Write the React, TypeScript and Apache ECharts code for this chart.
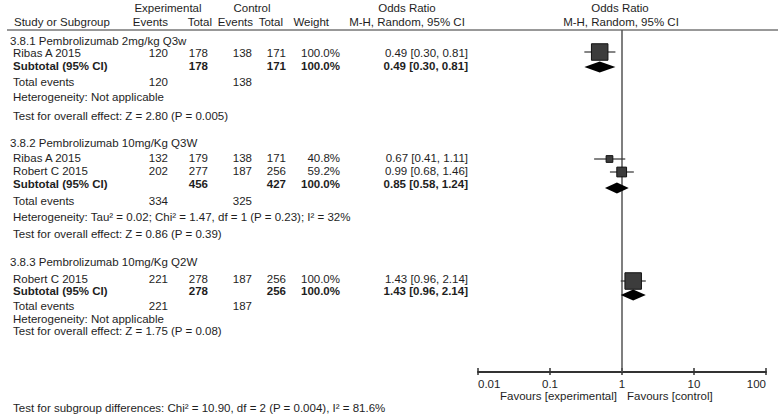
import React, { useEffect, useRef } from "react";
import * as echarts from "echarts";

// ---------- data ----------
const groupTitles = [
  "3.8.1 Pembrolizumab 2mg/kg Q3w",
  "3.8.2 Pembrolizumab 10mg/Kg Q3W",
  "3.8.3 Pembrolizumab 10mg/Kg Q2W",
];
const studyNames = ["Ribas A 2015", "Ribas A 2015", "Robert C 2015", "Robert C 2015"];
const studyGroup = [0, 1, 1, 2];
const expEvents = [120, 132, 202, 221];
const expTotal = [178, 179, 277, 278];
const ctrlEvents = [138, 138, 187, 187];
const ctrlTotal = [171, 171, 256, 256];
const weights = [100.0, 40.8, 59.2, 100.0];
const orVals = [0.49, 0.67, 0.99, 1.43];
const orLow = [0.3, 0.41, 0.68, 0.96];
const orHigh = [0.81, 1.11, 1.46, 2.14];

const subExpTotal = [178, 456, 278];
const subCtrlTotal = [171, 427, 256];
const subOr = [0.49, 0.85, 1.43];
const subLow = [0.3, 0.58, 0.96];
const subHigh = [0.81, 1.24, 2.14];
const totExpEvents = [120, 334, 221];
const totCtrlEvents = [138, 325, 187];
const heterogeneity = [
  "Heterogeneity: Not applicable",
  "Heterogeneity: Tau² = 0.02; Chi² = 1.47, df = 1 (P = 0.23); I² = 32%",
  "Heterogeneity: Not applicable",
];
const overallEffect = [
  "Test for overall effect: Z = 2.80 (P = 0.005)",
  "Test for overall effect: Z = 0.86 (P = 0.39)",
  "Test for overall effect: Z = 1.75 (P = 0.08)",
];
const subgroupTest = "Test for subgroup differences: Chi² = 10.90, df = 2 (P = 0.004), I² = 81.6%";
const tickLabels = ["0.01", "0.1", "1", "10", "100"];
const favours = ["Favours [experimental]", "Favours [control]"];

// ---------- layout (pixel rows) ----------
const headY = [41, 143, 262];
const studyTextY = [53, 158, 171, 279];
const studyMarkY = [52, 159, 172, 281];
const subTextY = [66, 184, 291];
const subMarkY = [67, 188, 295];
const totY = [82, 201, 306];
const hetY = [97, 217, 319];
const testY = [116, 234, 331];

const FONT = '"Liberation Sans", Arial, Helvetica, sans-serif';
const TXT = "#1e1e1e";
const FS = 11.5;

function t(text: string, x: number, y: number, align = "left", bold = false, size = FS) {
  return {
    type: "text",
    x,
    y,
    silent: true,
    style: {
      text,
      fill: TXT,
      fontFamily: FONT,
      fontSize: size,
      fontWeight: bold ? "bold" : "normal",
      align,
      verticalAlign: "middle",
    },
  };
}

const fmt = (v: number) => v.toFixed(2);
const ciText = (o: number, l: number, h: number) => `${fmt(o)} [${fmt(l)}, ${fmt(h)}]`;

export default function App() {
  const ref = useRef<HTMLDivElement>(null);
  useEffect(() => {
    document.body.style.margin = "0";
    const chart = echarts.init(ref.current!, null, { renderer: "svg" });

    const C = { ee: 168, et: 208, ce: 252, ct: 286, w: 340, or: 468, name: 13 };
    const g: any[] = [];
    // headers
    g.push(t("Experimental", 168, 8, "center"));
    g.push(t("Control", 252, 8, "center"));
    g.push(t("Odds Ratio", 407, 8, "center"));
    g.push(t("Odds Ratio", 620, 8, "center"));
    g.push(t("Study or Subgroup", 14, 22));
    g.push(t("Events", 168, 22, "right"));
    g.push(t("Total", 212, 22, "right"));
    g.push(t("Events", 253, 22, "right"));
    g.push(t("Total", 283, 22, "right"));
    g.push(t("Weight", 329, 22, "right"));
    g.push(t("M-H, Random, 95% CI", 407, 22, "center"));
    g.push(t("M-H, Random, 95% CI", 621, 22, "center"));
    g.push({
      type: "line",
      silent: true,
      shape: { x1: 7, y1: 30, x2: 778, y2: 30 },
      style: { stroke: "#333", lineWidth: 1 },
    });

    for (let gi = 0; gi < groupTitles.length; gi++) {
      g.push(t(groupTitles[gi], 10, headY[gi]));
      studyNames.forEach((n, i) => {
        if (studyGroup[i] !== gi) return;
        const y = studyTextY[i];
        g.push(t(n, C.name, y));
        g.push(t(String(expEvents[i]), C.ee, y, "right"));
        g.push(t(String(expTotal[i]), C.et, y, "right"));
        g.push(t(String(ctrlEvents[i]), C.ce, y, "right"));
        g.push(t(String(ctrlTotal[i]), C.ct, y, "right"));
        g.push(t(weights[i].toFixed(1) + "%", C.w, y, "right"));
        g.push(t(ciText(orVals[i], orLow[i], orHigh[i]), C.or, y, "right"));
      });
      const sy = subTextY[gi];
      g.push(t("Subtotal (95% CI)", C.name, sy, "left", true));
      g.push(t(String(subExpTotal[gi]), C.et, sy, "right", true));
      g.push(t(String(subCtrlTotal[gi]), C.ct, sy, "right", true));
      g.push(t("100.0%", C.w, sy, "right", true));
      g.push(t(ciText(subOr[gi], subLow[gi], subHigh[gi]), C.or, sy, "right", true));
      g.push(t("Total events", C.name, totY[gi]));
      g.push(t(String(totExpEvents[gi]), C.ee, totY[gi], "right"));
      g.push(t(String(totCtrlEvents[gi]), C.ce, totY[gi], "right"));
      g.push(t(heterogeneity[gi], C.name, hetY[gi]));
      g.push(t(overallEffect[gi], C.name, testY[gi]));
    }
    g.push(t(subgroupTest, 13, 408));
    g.push(t(favours[0], 617, 396, "right"));
    g.push(t(favours[1], 627, 396, "left"));

    const studyData = orVals.map((o, i) => [o, orLow[i], orHigh[i], studyMarkY[i], weights[i]]);
    const subData = subOr.map((o, i) => [o, subLow[i], subHigh[i], subMarkY[i]]);

    const axisBase = {
      type: "log",
      logBase: 10,
      min: 0.01,
      max: 100,
      gridIndex: 0,
      position: "bottom",
      splitLine: { show: false },
      minorTick: { show: false },
    };

    chart.setOption({
      animation: false,
      grid: { left: 478, right: 14, top: 30, bottom: 43, containLabel: false },
      xAxis: [
        {
          ...axisBase,
          axisLine: { show: true, lineStyle: { color: "#333", width: 2 } },
          axisTick: { show: true, length: 3, lineStyle: { color: "#333", width: 1.5 } },
          axisLabel: {
            show: true,
            margin: 6,
            fontSize: FS,
            fontFamily: FONT,
            color: TXT,
            alignMinLabel: "left",
            alignMaxLabel: "right",
            formatter: (v: number) => tickLabels[Math.round(Math.log10(v)) + 2],
          },
        },
        {
          ...axisBase,
          axisLine: { show: false },
          axisTick: { show: true, inside: true, length: 4, lineStyle: { color: "#333", width: 1.5 } },
          axisLabel: { show: false },
        },
      ],
      yAxis: { type: "value", min: 30, max: 372, inverse: true, show: false },
      graphic: { elements: g },
      series: [
        {
          type: "line",
          silent: true,
          data: [[1, 30], [1, 372]],
          symbol: "none",
          lineStyle: { color: "#555", width: 1.5 },
          z: 1,
        },
        {
          type: "custom",
          silent: true,
          data: studyData,
          encode: { x: [0, 1, 2], y: 3 },
          z: 3,
          renderItem: (params: any, api: any) => {
            const y = api.value(3);
            const c = api.coord([api.value(0), y]);
            const l = api.coord([api.value(1), y]);
            const h = api.coord([api.value(2), y]);
            const s = api.value(4) * 0.165;
            return {
              type: "group",
              children: [
                {
                  type: "line",
                  shape: { x1: l[0], y1: c[1], x2: h[0], y2: c[1] },
                  style: { stroke: "#333", lineWidth: 1.2 },
                },
                {
                  type: "rect",
                  shape: { x: c[0] - s / 2, y: c[1] - s / 2, width: s, height: s },
                  style: { fill: "#3c3c3c", stroke: "#111", lineWidth: 1 },
                },
              ],
            };
          },
        },
        {
          type: "custom",
          silent: true,
          data: subData,
          encode: { x: [0, 1, 2], y: 3 },
          z: 3,
          renderItem: (params: any, api: any) => {
            const y = api.value(3);
            const c = api.coord([api.value(0), y]);
            const l = api.coord([api.value(1), y]);
            const h = api.coord([api.value(2), y]);
            const hh = 5.5;
            return {
              type: "polygon",
              shape: {
                points: [
                  [l[0], c[1]],
                  [c[0], c[1] - hh],
                  [h[0], c[1]],
                  [c[0], c[1] + hh],
                ],
              },
              style: { fill: "#000" },
            };
          },
        },
      ],
    });
    return () => chart.dispose();
  }, []);
  return <div ref={ref} style={{ width: 780, height: 415 }} />;
}
